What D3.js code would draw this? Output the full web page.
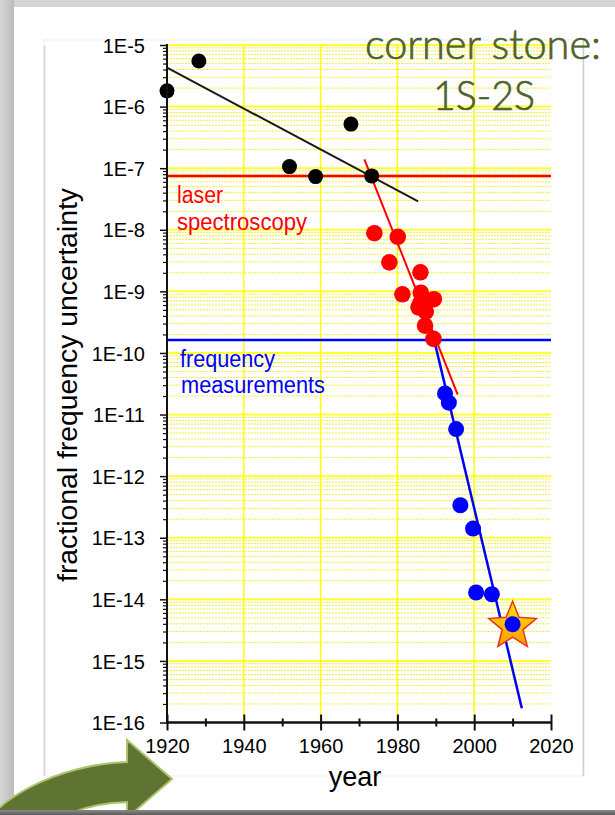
<!DOCTYPE html>
<html>
<head>
<meta charset="utf-8">
<script src="https://cdn.jsdelivr.net/npm/d3@7/dist/d3.min.js"></script>
<style>
  html, body { margin: 0; padding: 0; background: #d3d3d3; }
  svg { display: block; }
  .tick text { font-family: "Liberation Sans", Arial, sans-serif; fill: #000; }
</style>
</head>
<body>
<svg id="chart" width="615" height="815"></svg>
<script>
// ---------------- data ----------------
const blackYears = [1920, 1928.3, 1951.9, 1958.7, 1967.9, 1973.3];
const blackVals  = [1.8e-6, 5.5e-6, 1.06e-7, 7.3e-8, 5.2e-7, 7.5e-8];

const redYears = [1974.0, 1980.1, 1977.9, 1986.0, 1981.3, 1986.1, 1989.5, 1985.9, 1985.5, 1987.4, 1987.2, 1989.4];
const redVals  = [8.8e-9, 7.7e-9, 2.96e-9, 2.04e-9, 8.97e-10, 9.5e-10, 7.45e-10, 6.3e-10, 5.5e-10, 4.7e-10, 2.77e-10, 1.69e-10];

const blueYears = [1992.4, 1993.4, 1995.3, 1996.4, 1999.7, 2000.5, 2004.6, 2010.0];
const blueVals  = [2.2e-11, 1.56e-11, 5.8e-12, 3.37e-13, 1.41e-13, 1.29e-14, 1.21e-14, 3.94e-15];

const blackFitYears = [1920, 1985.4];
const blackFitVals  = [4.28e-6, 2.9e-8];
const redFitYears = [1971.4, 1995.7];
const redFitVals  = [1.39e-7, 2.1e-11];
const blueFitYears = [1989.6, 2012.4];
const blueFitVals  = [1.6e-10, 1.7e-16];

const laserLevel = 7.46e-8;
const freqLevel  = 1.63e-10;

const starYear = 2010.0;
const starVal  = 3.94e-15;

const xTicks = [1920, 1940, 1960, 1980, 2000, 2020];
const xMinorTicks = [1930, 1950, 1970, 1990, 2010];
const yTicks = [1e-5, 1e-6, 1e-7, 1e-8, 1e-9, 1e-10, 1e-11, 1e-12, 1e-13, 1e-14, 1e-15, 1e-16];
const xGridYears = [1940, 1960, 1980, 2000];

const titleLines = ["corner stone:", "1S-2S"];
const laserLabel = ["laser", "spectroscopy"];
const freqLabel = ["frequency", "measurements"];
const xTitle = "year";
const yTitle = "fractional frequency uncertainty";

// ---------------- setup ----------------
const svg = d3.select("#chart");
const W = 615, H = 815;

const defs = svg.append("defs");
const lg = defs.append("linearGradient").attr("id", "leftShade").attr("x1", 0).attr("x2", 1).attr("y1", 0).attr("y2", 0);
lg.append("stop").attr("offset", "0%").attr("stop-color", "#d6d6d6");
lg.append("stop").attr("offset", "100%").attr("stop-color", "#bdbdbd");
const bg = defs.append("linearGradient").attr("id", "bottomShade").attr("x1", 0).attr("x2", 0).attr("y1", 0).attr("y2", 1);
bg.append("stop").attr("offset", "0%").attr("stop-color", "#8a8a8a");
bg.append("stop").attr("offset", "100%").attr("stop-color", "#5a5a5a");
const sg = defs.append("linearGradient").attr("id", "starFill").attr("x1", 0).attr("x2", 0).attr("y1", 0).attr("y2", 1);
sg.append("stop").attr("offset", "0%").attr("stop-color", "#ffe600");
sg.append("stop").attr("offset", "100%").attr("stop-color", "#ff9a00");

// slide background
svg.append("rect").attr("width", W).attr("height", H).attr("fill", "#d4d4d4");
svg.append("rect").attr("x", 0).attr("y", 0).attr("width", 14).attr("height", H).attr("fill", "url(#leftShade)");
svg.append("rect").attr("x", 14).attr("y", 7).attr("width", W - 14).attr("height", 803).attr("fill", "#ffffff");

// chart picture frame
svg.append("rect").attr("x", 44).attr("y", 40).attr("width", 539).attr("height", 736)
  .attr("fill", "#fff").attr("stroke", "#ececec").attr("stroke-width", 1);
svg.append("line").attr("x1", 44.5).attr("x2", 44.5).attr("y1", 46).attr("y2", 776).attr("stroke", "#d2d2d2").attr("stroke-width", 1.5);
svg.append("line").attr("x1", 583.5).attr("x2", 583.5).attr("y1", 40).attr("y2", 776).attr("stroke", "#cdcdcd").attr("stroke-width", 1.5);

// scales
const x = d3.scaleLinear().domain([1920, 2020]).range([167, 551]);
const y = d3.scaleLog().domain([1e-16, 1e-5]).range([722.5, 45]);

const yMinor = [];
for (let e = -16; e <= -6; e++) for (let m = 2; m <= 9; m++) yMinor.push(m * Math.pow(10, e));

// grid
const grid = svg.append("g");
grid.selectAll(".minor").data(yMinor).join("line")
  .attr("x1", x(1920)).attr("x2", x(2020))
  .attr("y1", d => y(d)).attr("y2", d => y(d))
  .attr("stroke", "#f4ef3a").attr("stroke-width", 1).attr("stroke-dasharray", "2,1");
grid.selectAll(".major").data(yTicks.filter(d => d > 1e-16)).join("line")
  .attr("x1", x(1920)).attr("x2", x(2020))
  .attr("y1", d => y(d)).attr("y2", d => y(d))
  .attr("stroke", "#ffff33").attr("stroke-width", 2);
grid.selectAll(".vgrid").data(xGridYears).join("line")
  .attr("x1", d => x(d)).attr("x2", d => x(d))
  .attr("y1", y(1e-5)).attr("y2", y(1e-16))
  .attr("stroke", "#ffff00").attr("stroke-width", 1.5);

// horizontal levels
svg.append("line").attr("x1", x(1920)).attr("x2", x(2020))
  .attr("y1", y(laserLevel)).attr("y2", y(laserLevel))
  .attr("stroke", "#ff0000").attr("stroke-width", 2.5);
svg.append("line").attr("x1", x(1920)).attr("x2", x(2020))
  .attr("y1", y(freqLevel)).attr("y2", y(freqLevel))
  .attr("stroke", "#0000ff").attr("stroke-width", 2.5);

// fit lines
const lineGen = d3.line().x(d => x(d[0])).y(d => y(d[1]));
function fit(years, vals, color, w) {
  svg.append("path").datum(years.map((yr, i) => [yr, vals[i]]))
    .attr("d", lineGen).attr("fill", "none").attr("stroke", color).attr("stroke-width", w);
}
fit(blackFitYears, blackFitVals, "#1a1a1a", 2);
fit(redFitYears, redFitVals, "#ff0000", 2);
fit(blueFitYears, blueFitVals, "#0000ff", 2.5);

// points
function points(years, vals, color, r) {
  svg.append("g").selectAll("circle").data(years.map((yr, i) => [yr, vals[i]])).join("circle")
    .attr("cx", d => x(d[0])).attr("cy", d => y(d[1])).attr("r", r).attr("fill", color);
}
points(blackYears, blackVals, "#000000", 7.5);
points(redYears, redVals, "#ff0000", 8.3);

// star behind last blue point
function starPath(cx, cy, R, r) {
  const pts = [];
  for (let i = 0; i < 10; i++) {
    const a = -Math.PI / 2 + i * Math.PI / 5;
    const rad = i % 2 === 0 ? R : r;
    pts.push([cx + rad * Math.cos(a), cy + rad * Math.sin(a)]);
  }
  return "M" + pts.map(p => p.join(",")).join("L") + "Z";
}
svg.append("path").attr("d", starPath(x(starYear), y(starVal) + 2, 25, 11))
  .attr("fill", "url(#starFill)").attr("stroke", "#e8361a").attr("stroke-width", 1.5).attr("stroke-linejoin", "miter");

points(blueYears, blueVals, "#0000ff", 8);

// axes
const yAxis = svg.append("g").attr("transform", `translate(${x(1920)},0)`)
  .call(d3.axisLeft(y).tickValues(yTicks).tickFormat(d => "1E" + Math.round(Math.log10(d))).tickSize(7).tickPadding(15));
yAxis.select(".domain").remove();
yAxis.selectAll(".tick line").attr("stroke", "#111").attr("stroke-width", 1.5);
yAxis.selectAll(".tick text").attr("font-size", 20).attr("dy", "0.36em");
const yMinorAxis = svg.append("g").attr("transform", `translate(${x(1920)},0)`)
  .call(d3.axisLeft(y).tickValues(yMinor).tickFormat("").tickSize(4));
yMinorAxis.select(".domain").remove();
yMinorAxis.selectAll(".tick line").attr("stroke", "#111").attr("stroke-width", 1.2);
svg.append("line").attr("x1", x(1920)).attr("x2", x(1920)).attr("y1", y(1e-5) - 1).attr("y2", y(1e-16))
  .attr("stroke", "#111").attr("stroke-width", 2);

const xAxis = svg.append("g").attr("transform", `translate(0,${y(1e-16)})`)
  .call(d3.axisBottom(x).tickValues(xTicks).tickFormat(d3.format("d")).tickSize(8).tickPadding(8));
xAxis.select(".domain").remove();
xAxis.selectAll(".tick line").attr("y1", -8).attr("y2", 8).attr("stroke", "#111").attr("stroke-width", 2);
xAxis.selectAll(".tick text").attr("font-size", 20);
const xMinorAxis = svg.append("g").attr("transform", `translate(0,${y(1e-16)})`)
  .call(d3.axisBottom(x).tickValues(xMinorTicks).tickFormat("").tickSize(4));
xMinorAxis.select(".domain").remove();
xMinorAxis.selectAll(".tick line").attr("y1", -4).attr("y2", 4).attr("stroke", "#111").attr("stroke-width", 2);
svg.append("line").attr("x1", x(1920) - 1).attr("x2", x(2020)).attr("y1", y(1e-16)).attr("y2", y(1e-16))
  .attr("stroke", "#111").attr("stroke-width", 2.5);

// axis titles
svg.append("text").attr("x", 355).attr("y", 786).attr("text-anchor", "middle")
  .attr("font-family", "Liberation Sans, Arial, sans-serif").attr("font-size", 27).attr("fill", "#000").text(xTitle);
svg.append("text").attr("transform", "translate(77,385) rotate(-90)").attr("text-anchor", "middle")
  .attr("font-family", "Liberation Sans, Arial, sans-serif").attr("font-size", 27).attr("fill", "#000")
  .attr("textLength", 394).attr("lengthAdjust", "spacingAndGlyphs").text(yTitle);

// annotations
const annoFont = "Liberation Sans, Arial, sans-serif";
svg.append("text").attr("x", 177).attr("y", 203).attr("font-family", annoFont).attr("font-size", 23)
  .attr("fill", "#ff0000").attr("textLength", 46).attr("lengthAdjust", "spacingAndGlyphs").text(laserLabel[0]);
svg.append("text").attr("x", 177).attr("y", 230).attr("font-family", annoFont).attr("font-size", 23)
  .attr("fill", "#ff0000").attr("textLength", 130).attr("lengthAdjust", "spacingAndGlyphs").text(laserLabel[1]);
svg.append("text").attr("x", 180).attr("y", 367).attr("font-family", annoFont).attr("font-size", 23)
  .attr("fill", "#0000ff").attr("textLength", 95).attr("lengthAdjust", "spacingAndGlyphs").text(freqLabel[0]);
svg.append("text").attr("x", 181).attr("y", 393).attr("font-family", annoFont).attr("font-size", 23)
  .attr("fill", "#0000ff").attr("textLength", 144).attr("lengthAdjust", "spacingAndGlyphs").text(freqLabel[1]);

// title
const titleFont = "Lato, 'Open Sans', sans-serif";
svg.append("text").attr("x", 365).attr("y", 59).attr("font-family", titleFont).attr("font-weight", 300)
  .attr("font-size", 41).attr("fill", "#4f6228").attr("stroke", "#4f6228").attr("stroke-width", 0.7)
  .attr("textLength", 236).attr("lengthAdjust", "spacingAndGlyphs").text(titleLines[0]);
svg.append("text").attr("x", 433).attr("y", 110).attr("font-family", titleFont).attr("font-weight", 300)
  .attr("font-size", 41).attr("fill", "#4f6228").attr("stroke", "#4f6228").attr("stroke-width", 0.7)
  .attr("textLength", 102).attr("lengthAdjust", "spacingAndGlyphs").text(titleLines[1]);

// curved arrow (decoration)
svg.append("path")
  .attr("d", "M127,762 L127,740 L172,779 L127,818 L127,802 C90,803 50,815 30,845 L-25,845 C-15,800 60,764 127,762 Z")
  .attr("fill", "#5f7432").attr("stroke", "#a9c46a").attr("stroke-width", 2).attr("stroke-linejoin", "miter");

// bottom slide shadow
svg.append("rect").attr("x", 0).attr("y", 810).attr("width", W).attr("height", 5).attr("fill", "url(#bottomShade)");
</script>
</body>
</html>
